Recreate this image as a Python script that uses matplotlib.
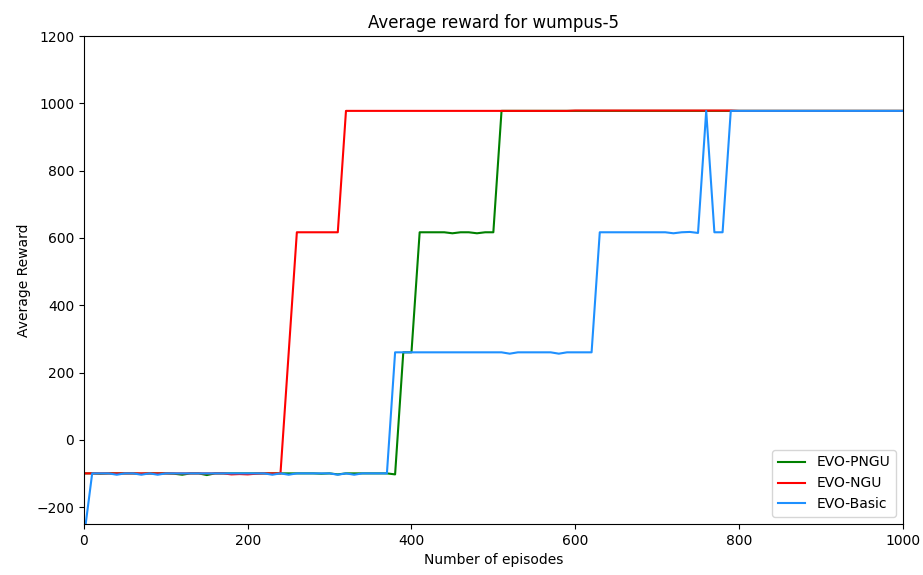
import matplotlib
matplotlib.use("Agg")
import matplotlib.pyplot as plt

# episodes sampled every 10 steps
episodes = list(range(0, 1001, 10))

evo_pngu = [
    -100, -100, -101, -100, -100, -100, -100, -101, -100, -100,
    -100, -101, -104, -100, -100, -105, -100, -100, -100, -100,
    -100, -100, -100, -100, -100, -100, -100, -100, -100, -101,
    -100, -103, -100, -100, -100, -100, -100, -100, -103, 260,
    260, 617, 617, 617, 617, 614, 617, 617, 614, 617,
    617, 978, 978, 978, 978, 978, 978, 978, 978, 978,
    978, 978, 978, 978, 978, 978, 978, 978, 978, 978,
    978, 978, 978, 978, 978, 978, 978, 978, 978, 978,
    978, 978, 978, 978, 978, 978, 978, 978, 978, 978,
    978, 978, 978, 978, 978, 978, 978, 978, 978, 978,
    978,
]

evo_ngu = [
    -100, -100, -100, -100, -100, -100, -100, -100, -100, -100,
    -100, -100, -100, -100, -100, -100, -100, -100, -103, -102,
    -103, -101, -100, -100, -100, 258, 617, 617, 617, 617,
    617, 617, 978, 978, 978, 978, 978, 978, 978, 978,
    978, 978, 978, 978, 978, 978, 978, 978, 978, 978,
    978, 978, 978, 978, 978, 978, 978, 978, 978, 978,
    979, 979, 979, 979, 979, 979, 979, 979, 979, 979,
    979, 979, 979, 979, 979, 979, 979, 979, 979, 979,
    978, 978, 978, 978, 978, 978, 978, 978, 978, 978,
    978, 978, 978, 978, 978, 978, 978, 978, 978, 978,
    978,
]

evo_basic = [
    -290, -100, -100, -100, -104, -100, -100, -104, -100, -104,
    -100, -100, -100, -100, -100, -100, -100, -100, -100, -100,
    -100, -100, -100, -104, -100, -104, -100, -100, -100, -100,
    -100, -104, -100, -104, -100, -100, -100, -100, 260, 260,
    260, 260, 260, 260, 260, 260, 260, 260, 260, 260,
    260, 260, 256, 260, 260, 260, 260, 260, 256, 260,
    260, 260, 260, 617, 617, 617, 617, 617, 617, 617,
    617, 617, 614, 617, 618, 615, 978, 617, 617, 978,
    978, 978, 978, 978, 978, 978, 978, 978, 978, 978,
    978, 978, 978, 978, 978, 978, 978, 978, 978, 978,
    978,
]

fig = plt.figure(figsize=(9.23, 5.75), dpi=100)
ax = fig.add_subplot(111)
fig.subplots_adjust(left=0.091, right=0.978, top=0.937, bottom=0.089)

ax.plot(episodes, evo_pngu, color='green', label='EVO-PNGU')
ax.plot(episodes, evo_ngu, color='red', label='EVO-NGU')
ax.plot(episodes, evo_basic, color='dodgerblue', label='EVO-Basic')

ax.set_xlim(0, 1000)
ax.set_ylim(-250, 1200)
ax.set_yticks(range(-200, 1201, 200))
ax.set_title('Average reward for wumpus-5')
ax.set_xlabel('Number of episodes')
ax.set_ylabel('Average Reward')
ax.legend(loc='lower right')

fig.savefig('out.png')
